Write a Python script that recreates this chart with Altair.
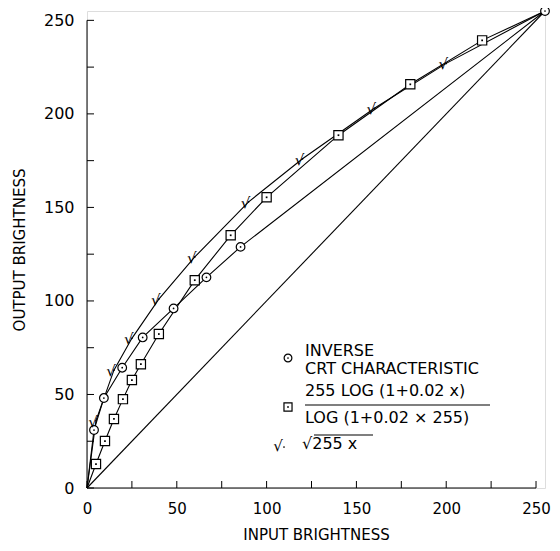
import altair as alt
import pandas as pd

# ---- data ----
crt_x = [0, 3.9, 9.4, 19.6, 31.0, 48.2, 66.5, 85.5, 255]
crt_y = [0, 31.0, 48.1, 64.3, 80.5, 96.0, 112.6, 128.9, 255]

log_x = [0, 5, 10, 15, 20, 25, 30, 40, 60, 80, 100, 140, 180, 220, 255]
log_y = [0, 12.8, 25.1, 36.9, 47.5, 57.7, 66.2, 82.3, 111.1, 135.1, 155.4, 188.6, 215.8, 239.3, 255]

sqrt_x = [0, 5, 15, 25, 40, 60, 90, 120, 160, 200, 255]
sqrt_y = [0, 36, 63, 80, 101, 123.5, 153, 176, 203, 227, 255]

diag_x = [0, 255]
diag_y = [0, 255]

tick_values = [0, 25, 50, 75, 100, 125, 150, 175, 200, 225, 250]
label_values = [0, 50, 100, 150, 200, 250]

legend_lines = ["INVERSE", "CRT CHARACTERISTIC", "255 LOG (1+0.02 x)", "LOG (1+0.02 × 255)", "√255 x"]

FONT = "DejaVu Sans"
W, H = 458, 477

crt = pd.DataFrame({"x": crt_x, "y": crt_y})
logc = pd.DataFrame({"x": log_x, "y": log_y})
sq = pd.DataFrame({"x": sqrt_x, "y": sqrt_y})
diag = pd.DataFrame({"x": diag_x, "y": diag_y})
ticks = pd.DataFrame({"x": tick_values, "y": tick_values})
extent = pd.DataFrame({"x": [tick_values[0]], "x2": [tick_values[-1]],
                       "y": [tick_values[0]], "y2": [tick_values[-1]]})

xs = alt.Scale(domain=[0, 255], nice=False, zero=False)
ys = alt.Scale(domain=[0, 255], nice=False, zero=False)

xaxis = alt.Axis(values=label_values, domain=False, ticks=False, tickSize=0, grid=False,
                 labelPadding=13, labelFont=FONT, labelFontSize=15, labelColor="black",
                 labelFlush=False, labelOverlap=False,
                 titleFont=FONT, titleFontSize=15,
                 titleFontWeight="normal", titleColor="black", titlePadding=11, format="d")
yaxis = alt.Axis(values=label_values, domain=False, ticks=False, tickSize=0, grid=False,
                 labelPadding=13, labelFont=FONT, labelFontSize=16, labelColor="black",
                 labelFlush=False, labelOverlap=False,
                 titleFont=FONT, titleFontSize=15,
                 titleFontWeight="normal", titleColor="black", titlePadding=16, format="d")

XT = "INPUT BRIGHTNESS"
YT = "OUTPUT BRIGHTNESS"

def X(field="x"):
    return alt.X(f"{field}:Q", scale=xs, axis=xaxis, title=XT)

def Y(field="y"):
    return alt.Y(f"{field}:Q", scale=ys, axis=yaxis, title=YT)

line_style = dict(color="black", strokeWidth=1.1)

diag_line = alt.Chart(diag).mark_line(**line_style).encode(x=X(), y=Y())
crt_line = alt.Chart(crt).mark_line(**line_style).encode(x=X(), y=Y())
log_line = alt.Chart(logc).mark_line(**line_style).encode(x=X(), y=Y())
sq_line = alt.Chart(sq).mark_line(**line_style).encode(x=X(), y=Y())

crt_pts = alt.Chart(crt.iloc[1:]).mark_point(shape="circle", size=75, filled=True, fill="white",
                                             stroke="black", strokeWidth=1.2, opacity=1).encode(x=X(), y=Y())
crt_dot = alt.Chart(crt.iloc[1:]).mark_point(shape="circle", size=3, filled=True, color="black",
                                             opacity=1).encode(x=X(), y=Y())
log_pts = alt.Chart(logc.iloc[1:-1]).mark_point(shape="square", size=85, filled=True, fill="white",
                                                stroke="black", strokeWidth=1.2, opacity=1).encode(x=X(), y=Y())
log_dot = alt.Chart(logc.iloc[1:-1]).mark_point(shape="square", size=3, filled=True, color="black",
                                                opacity=1).encode(x=X(), y=Y())
sq_sym = alt.Chart(sq.iloc[1:-1]).mark_text(text="√", font=FONT, fontSize=15, color="black",
                                           align="center", baseline="middle", dx=-3, dy=1).encode(x=X(), y=Y())
sq_dot = alt.Chart(sq.iloc[1:-1]).mark_point(shape="circle", size=3, filled=True, color="black",
                                             opacity=1).encode(x=X(), y=Y())

# inward ticks and axis lines
x_ticks = alt.Chart(ticks).mark_rule(color="black", strokeWidth=1).encode(
    x=X("x"), y=alt.value(H), y2=alt.value(H - 7))
y_ticks = alt.Chart(ticks).mark_rule(color="black", strokeWidth=1).encode(
    y=Y("y"), x=alt.value(0), x2=alt.value(7))
x_dom = alt.Chart(extent).mark_rule(color="black", strokeWidth=1).encode(
    x=X("x"), x2="x2:Q", y=alt.value(H))
y_dom = alt.Chart(extent).mark_rule(color="black", strokeWidth=1).encode(
    y=Y("y"), y2="y2:Q", x=alt.value(0))

# legend (drawn inside the plot like the original)
lg = pd.DataFrame({"t": [0]})
def ltext(txt, px, py, size=16):
    return alt.Chart(lg).mark_text(text=txt, font=FONT, fontSize=size, color="black",
                                   align="left", baseline="middle").encode(
        x=alt.value(px), y=alt.value(py))

LX = 201  # legend marker column, relative to plot origin
TX = 218  # legend text column
leg_circle = alt.Chart(lg).mark_point(shape="circle", size=60, filled=True, fill="white",
                                      stroke="black", strokeWidth=1.2, opacity=1).encode(
    x=alt.value(LX), y=alt.value(347))
leg_circle_dot = alt.Chart(lg).mark_point(shape="circle", size=3, filled=True, color="black",
                                          opacity=1).encode(x=alt.value(LX), y=alt.value(347))
leg_square = alt.Chart(lg).mark_point(shape="square", size=65, filled=True, fill="white",
                                      stroke="black", strokeWidth=1.2, opacity=1).encode(
    x=alt.value(LX), y=alt.value(396))
leg_square_dot = alt.Chart(lg).mark_point(shape="square", size=3, filled=True, color="black",
                                          opacity=1).encode(x=alt.value(LX), y=alt.value(396))
leg_sqrt = alt.Chart(lg).mark_text(text="√", font=FONT, fontSize=15, color="black",
                                   align="center", baseline="middle").encode(
    x=alt.value(LX - 10), y=alt.value(435))
leg_sqrt_dot = alt.Chart(lg).mark_point(shape="circle", size=3, filled=True, color="black",
                                        opacity=1).encode(x=alt.value(LX - 4), y=alt.value(436))
frac_bar = alt.Chart(lg).mark_rule(color="black", strokeWidth=1.1).encode(
    x=alt.value(TX), x2=alt.value(TX + 185), y=alt.value(394))
sqrt_bar = alt.Chart(lg).mark_rule(color="black", strokeWidth=1.1).encode(
    x=alt.value(TX + 9), x2=alt.value(TX + 68), y=alt.value(424))

legend_layers = [
    leg_circle, leg_circle_dot, leg_square, leg_square_dot, leg_sqrt, leg_sqrt_dot,
    frac_bar, sqrt_bar,
    ltext(legend_lines[0], TX, 340),
    ltext(legend_lines[1], TX, 358),
    ltext(legend_lines[2], TX, 380),
    ltext(legend_lines[3], TX, 407),
    ltext(legend_lines[4], TX - 3, 433),
]

chart = alt.layer(
    diag_line, crt_line, log_line, sq_line,
    x_ticks, y_ticks, x_dom, y_dom,
    crt_pts, crt_dot, log_pts, log_dot, sq_sym, sq_dot,
    *legend_layers,
).properties(
    width=W, height=H,
    autosize=alt.AutoSizeParams(type="none"),
    padding={"left": 79, "top": 3, "right": 7, "bottom": 55},
).configure_view(stroke=None).configure(background="white")

chart.save("out.html", embed_options={"renderer": "svg", "actions": False})
